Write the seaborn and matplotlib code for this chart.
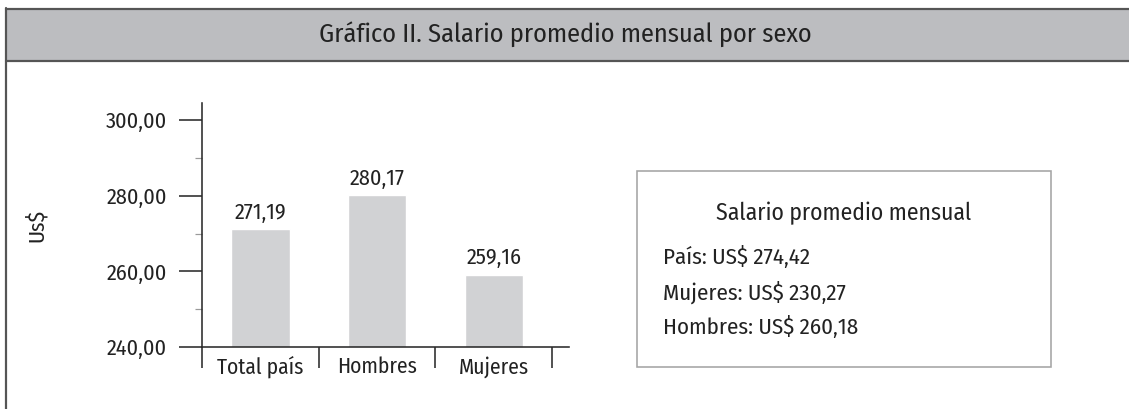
import matplotlib
matplotlib.use("Agg")
import matplotlib.pyplot as plt
import numpy as np
import pandas as pd
import seaborn as sns
from matplotlib.lines import Line2D
from matplotlib.patches import Rectangle
from matplotlib.ticker import FixedLocator, FuncFormatter

# %% data
categorias = ["Total país", "Hombres", "Mujeres"]
salarios = [271.19, 280.17, 259.16]
y_ticks = [240, 260, 280, 300]
y_minor = [250, 270, 290]
titulo = "Gráfico II. Salario promedio mensual por sexo"
caja_titulo = "Salario promedio mensual"
caja_lineas = ["País: US$ 274,42", "Mujeres: US$ 230,27", "Hombres: US$ 260,18"]

df = pd.DataFrame({"categoria": categorias, "salario": salarios})

# %% style
sns.set_theme(style="white")
plt.rcParams["font.family"] = ["Fira Sans Condensed", "Liberation Sans", "DejaVu Sans"]

W, H = 1129, 409
PX = 0.72  # points per pixel at dpi 100
tinta = "#2b2b2b"
texto = "#222222"

fig = plt.figure(figsize=(W / 100, H / 100), dpi=100)

def fx(x):
    return x / W

def fy(y):
    return 1 - y / H

# title band and frame
fig.add_artist(Rectangle((fx(6), fy(61)), fx(W - 6), fy(8) - fy(61),
                         transform=fig.transFigure, facecolor="#bcbdc0",
                         edgecolor="none", zorder=0))
for xs, ys in [((6, W), (9, 9)), ((6, W), (61, 61)), ((6, 6), (8, H))]:
    fig.add_artist(Line2D([fx(xs[0]), fx(xs[1])], [fy(ys[0]), fy(ys[1])],
                          transform=fig.transFigure, color="#555555", lw=2.2 * PX))
fig.text(fx(565), fy(34), titulo, ha="center", va="center", fontsize=19, color=texto)

# %% bar chart
ax = fig.add_axes([fx(202), fy(347), fx(569 - 202), fy(103) - fy(347)])
sns.barplot(data=df, x="categoria", y="salario", color="#d1d2d4", width=0.5,
            saturation=1, ax=ax, zorder=2)
ax.set_ylim(240, 304.5)
ax.set_xlim(-0.5, 2.645)

for s in ["top", "right"]:
    ax.spines[s].set_visible(False)
for s in ["left", "bottom"]:
    ax.spines[s].set_color(tinta)
    ax.spines[s].set_linewidth(1.6 * PX)

ax.yaxis.set_major_locator(FixedLocator(y_ticks))
ax.yaxis.set_minor_locator(FixedLocator(y_minor))
ax.yaxis.set_major_formatter(FuncFormatter(lambda v, p: f"{v:.2f}".replace(".", ",")))
ax.tick_params(axis="y", which="major", direction="out", length=23 * PX, width=1.6 * PX,
               color=tinta, labelsize=16, labelcolor=texto, pad=12 * PX, left=True)
ax.tick_params(axis="y", which="minor", direction="out", length=7 * PX, width=1.2 * PX,
               color="#9a9a9a", left=True)

# category separators as major x ticks, names as minor ticks
ax.xaxis.set_major_locator(FixedLocator([-0.5, 0.5, 1.5, 2.5]))
ax.xaxis.set_major_formatter(FuncFormatter(lambda v, p: ""))
ax.xaxis.set_minor_locator(FixedLocator([0, 1, 2]))
ax.set_xticklabels(categorias, minor=True)
ax.tick_params(axis="x", which="major", direction="out", length=21 * PX, width=1.6 * PX,
               color=tinta, bottom=True)
ax.tick_params(axis="x", which="minor", length=0, labelsize=15.5, labelcolor=texto,
               pad=9 * PX, bottom=True)

ax.set_xlabel("")
ax.set_ylabel("Us$", fontsize=16, color=texto, labelpad=58 * PX)
ax.bar_label(ax.containers[0], labels=[f"{v:.2f}".replace(".", ",") for v in salarios],
             padding=6 * PX, fontsize=16, color=texto)

# %% summary box
fig.add_artist(Rectangle((fx(637), fy(367)), fx(1051 - 637), fy(171) - fy(367),
                         transform=fig.transFigure, facecolor="white",
                         edgecolor="#a5a5a5", lw=1.6 * PX))
fig.text(fx(844), fy(213), caja_titulo, ha="center", va="center", fontsize=17,
         color=texto)
for i, linea in enumerate(caja_lineas):
    fig.text(fx(663), fy(257 + 35 * i), linea, ha="left", va="center", fontsize=16.5,
             color=texto)

fig.savefig("out.png", dpi=100)
